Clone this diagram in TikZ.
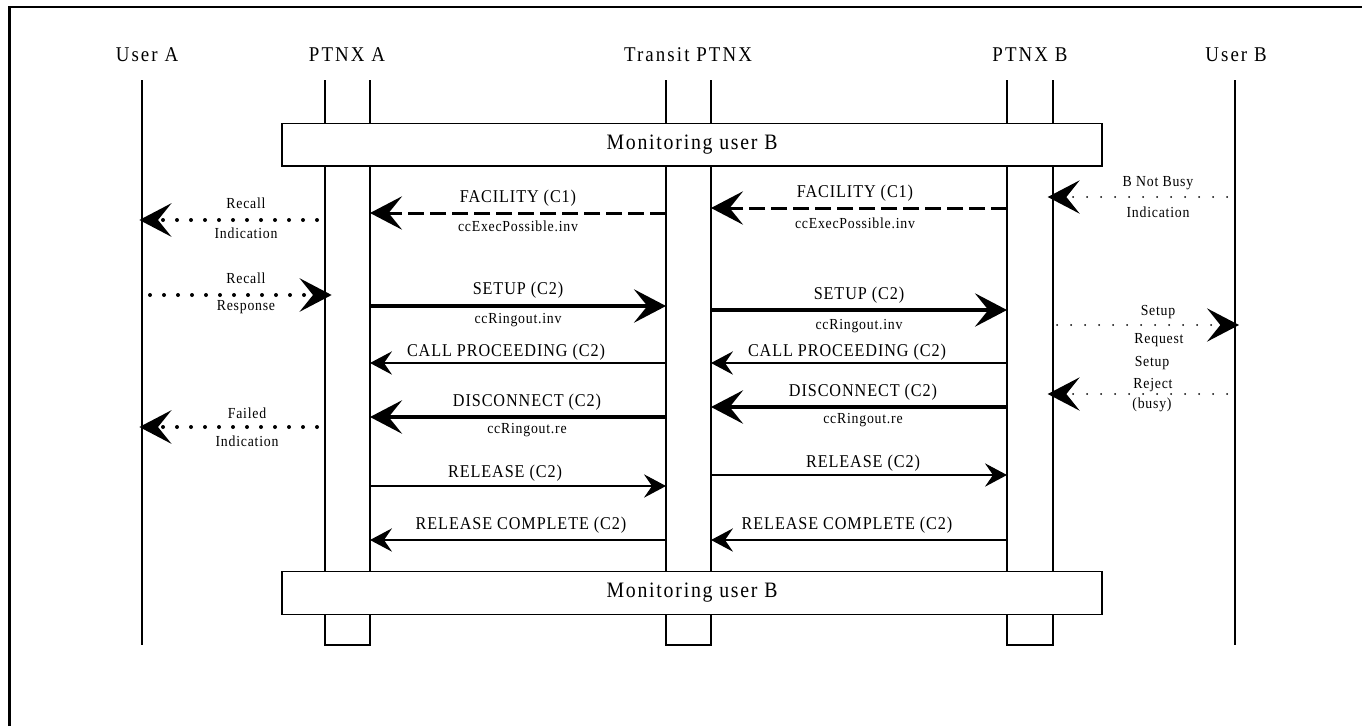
\documentclass[tikz,border=0pt]{standalone}
\usepackage{fontspec}
\setmainfont{Liberation Serif}[FakeStretch=0.9,LetterSpace=5]
\newfontfamily\hdfont{Liberation Serif}[FakeStretch=0.9,LetterSpace=10]
\newfontfamily\monfont{Liberation Serif}[FakeStretch=0.9,LetterSpace=8]
\usetikzlibrary{arrows.meta}
\tikzset{
  bigtip/.tip={Stealth[length=24pt,width=25pt,inset=10pt]},
  smalltip/.tip={Stealth[length=16.5pt,width=17.5pt,inset=6pt]},
}
\begin{document}
\begin{tikzpicture}[x=0.75pt,y=-0.75pt,
  hdr/.style={font=\hdfont\fontsize{15.75}{18}\selectfont,inner sep=0pt},
  lbl/.style={font=\fontsize{13.5}{16}\selectfont,inner sep=0pt},
  sub/.style={font=\fontsize{11.5}{13}\selectfont,inner sep=0pt},
  userline/.style={line width=1.5pt},
  ptnxline/.style={line width=1pt},
  monbox/.style={draw,line width=1pt,fill=white,minimum width=615pt,minimum height=32pt,inner sep=0pt,font=\monfont\fontsize{16.5}{19}\selectfont},
  thickmsg/.style={line width=3pt,-{bigtip}},
  thinmsg/.style={line width=1pt,-{smalltip}},
  dashmsg/.style={line width=2.25pt,dash pattern=on 12pt off 4.5pt,-{bigtip}},
  bigdots/.style={line width=3pt,line cap=round,dash pattern=on 0pt off 10.5pt,-{bigtip}},
  finedots/.style={line width=1.5pt,line cap=round,dash pattern=on 0pt off 10.5pt,-{bigtip}}]
\useasboundingbox (0,0) rectangle (1362,726);
\draw[line width=2pt] (9.5,726) -- (9.5,7) -- (1362,7);% frame

% lifelines
\coordinate (UA) at (142,80);
\coordinate (PAl) at (325,80);
\coordinate (PAr) at (370,80);
\coordinate (TPl) at (666,80);
\coordinate (TPr) at (711,80);
\coordinate (PBl) at (1007,80);
\coordinate (PBr) at (1053,80);
\coordinate (UB) at (1235,80);
\coordinate (bot) at (0,645);

\draw[userline] (UA) -- (UA |- bot);
\draw[userline] (UB) -- (UB |- bot);
\draw[ptnxline] (PAl) -- (PAl |- bot) -- (PAr |- bot) -- (PAr);
\draw[ptnxline] (TPl) -- (TPl |- bot) -- (TPr |- bot) -- (TPr);
\draw[ptnxline] (PBl) -- (PBl |- bot) -- (PBr |- bot) -- (PBr);

\node[hdr] (hUA) at (147,55) {User A};
\node[hdr] (hPA) at (347,55) {PTNX A};
\node[hdr] (hTP) at (688,55) {Transit PTNX};
\node[hdr] (hPB) at (1030,55) {PTNX B};
\node[hdr] (hUB) at (1236,55) {User B};

\node[monbox] (mon1) at (692,144.5) {Monitoring user B};
\node[monbox] (mon2) at (692,593) {Monitoring user B};

% message rows
\coordinate (fac1) at (0,213);
\coordinate (fac2) at (0,208);
\coordinate (nb) at (0,197);
\coordinate (ri) at (0,220);
\coordinate (rr) at (0,295);
\coordinate (set1) at (0,306);
\coordinate (set2) at (0,310);
\coordinate (sr) at (0,325);
\coordinate (cp) at (0,363);
\coordinate (rej) at (0,394);
\coordinate (dis1) at (0,417);
\coordinate (dis2) at (0,407);
\coordinate (fi) at (0,427);
\coordinate (rel1) at (0,486);
\coordinate (rel2) at (0,475);
\coordinate (rc) at (0,540);

\draw[dashmsg] (TPl |- fac1) -- (PAr |- fac1);
\draw[dashmsg] (PBl |- fac2) -- (TPr |- fac2);
\draw[finedots,shorten <=6pt,shorten >=-4pt] (UB |- nb) -- (PBr |- nb);
\draw[bigdots,shorten <=6pt,shorten >=-2pt] (PAl |- ri) -- (UA |- ri);
\draw[bigdots,shorten <=6pt,shorten >=-5pt] (UA |- rr) -- (PAl |- rr);
\draw[thickmsg] (PAr |- set1) -- (TPl |- set1);
\draw[thickmsg] (TPr |- set2) -- (PBl |- set2);
\draw[finedots,shorten <=3pt,shorten >=-3pt] (PBr |- sr) -- (UB |- sr);
\draw[thinmsg] (TPl |- cp) -- (PAr |- cp);
\draw[thinmsg] (PBl |- cp) -- (TPr |- cp);
\draw[finedots,shorten <=6pt,shorten >=-4pt] (UB |- rej) -- (PBr |- rej);
\draw[thickmsg] (TPl |- dis1) -- (PAr |- dis1);
\draw[thickmsg] (PBl |- dis2) -- (TPr |- dis2);
\draw[bigdots,shorten <=6pt,shorten >=-2pt] (PAl |- fi) -- (UA |- fi);
\draw[thinmsg] (PAr |- rel1) -- (TPl |- rel1);
\draw[thinmsg] (TPr |- rel2) -- (PBl |- rel2);
\draw[thinmsg] (TPl |- rc) -- (PAr |- rc);
\draw[thinmsg] (PBl |- rc) -- (TPr |- rc);

% labels
\node[lbl] (lfac1) at (518,198) {FACILITY (C1)};
\node[sub] (sfac1) at (518,226) {ccExecPossible.inv};
\node[lbl] (lfac2) at (855,193) {FACILITY (C1)};
\node[sub] (sfac2) at (855,223) {ccExecPossible.inv};
\node[sub] (lnb) at (1158,183) {B Not Busy};
\node[sub] (snb) at (1158,212) {Indication};
\node[sub] (lri) at (246,203) {Recall};
\node[sub] (sri) at (246,233) {Indication};
\node[sub] (lrr) at (246,278) {Recall};
\node[sub] (srr) at (246,307) {Response};
\node[lbl] (lset1) at (518,290) {SETUP (C2)};
\node[sub] (sset1) at (518,320) {ccRingout.inv};
\node[lbl] (lset2) at (859,295) {SETUP (C2)};
\node[sub] (sset2) at (859,326) {ccRingout.inv};
\node[sub] (lsr) at (1158,312) {Setup};
\node[sub] (ssr) at (1159,340) {Request};
\node[lbl] (lcp1) at (506,352) {CALL PROCEEDING (C2)};
\node[lbl] (lcp2) at (847,352) {CALL PROCEEDING (C2)};
\node[sub] (lrej) at (1152,363) {Setup};
\node[sub] (mrej) at (1153,385) {Reject};
\node[sub] (srej) at (1152,405) {(busy)};
\node[lbl] (ldis1) at (527,402) {DISCONNECT (C2)};
\node[sub] (sdis1) at (527,430) {ccRingout.re};
\node[lbl] (ldis2) at (863,392) {DISCONNECT (C2)};
\node[sub] (sdis2) at (863,420) {ccRingout.re};
\node[sub] (lfi) at (247,413) {Failed};
\node[sub] (sfi) at (247,441) {Indication};
\node[lbl] (lrel1) at (505,473) {RELEASE (C2)};
\node[lbl] (lrel2) at (863,463) {RELEASE (C2)};
\node[lbl] (lrc1) at (521,525) {RELEASE COMPLETE (C2)};
\node[lbl] (lrc2) at (847,525) {RELEASE COMPLETE (C2)};
\end{tikzpicture}
\end{document}
